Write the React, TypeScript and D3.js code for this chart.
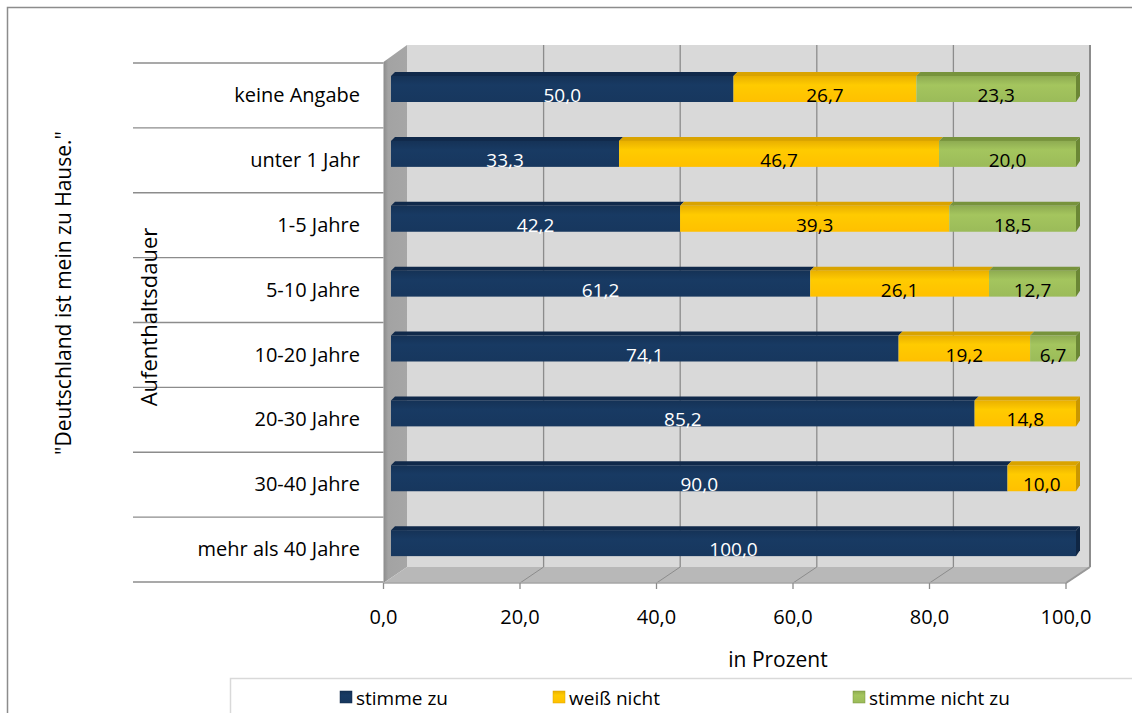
import * as React from 'react';
import * as d3 from 'd3';

const categories = ['keine Angabe', 'unter 1 Jahr', '1-5 Jahre', '5-10 Jahre', '10-20 Jahre', '20-30 Jahre', '30-40 Jahre', 'mehr als 40 Jahre'];
const seriesNames = ['stimme zu', 'weiß nicht', 'stimme nicht zu'];
const stimmeZu = [50.0, 33.3, 42.2, 61.2, 74.1, 85.2, 90.0, 100.0];
const weissNicht = [26.7, 46.7, 39.3, 26.1, 19.2, 14.8, 10.0, 0];
const stimmeNichtZu = [23.3, 20.0, 18.5, 12.7, 6.7, 0, 0, 0];
const xTicks = [0, 20, 40, 60, 80, 100];

const font = '"Open Sans", "Noto Sans", sans-serif';
const fill = ['#17375e', '#ffc000', '#9bbb59'];
const topFill = ['#10294a', '#d9a300', '#77933c'];
const capFill = ['#0f2644', '#c99700', '#6b8735'];
const txtFill = ['#ffffff', '#000000', '#000000'];

const fmt = (v: number) => v.toFixed(1).replace('.', ',');

const App: React.FC = () => {
  const rows = categories.map((c, i) => ({ cat: c, s0: stimmeZu[i], s1: weissNicht[i], s2: stimmeNichtZu[i] }));
  const stack = d3.stack<any>().keys(['s0', 's1', 's2'])(rows);

  // 3D frame: back wall, side wall, floor
  const dy = 16;
  const xBack = d3.scaleLinear().domain([0, 100]).range([407, 1090]);
  const xFront = d3.scaleLinear().domain([0, 100]).range([383.5, 1066]);
  const xBar = d3.scaleLinear().domain([0, 100]).range([391, 1076]);
  const y = d3.scaleBand().domain(categories).range([63, 582]).padding(0);
  const backTop = 45, floorBack = 567, floorFront = floorBack + dy;
  const bh = 26, depth = 4;

  return (
    <svg width={1132} height={713} style={{ position: 'absolute', left: 0, top: 0, background: '#fff' }}>
      <defs>
        {fill.map((c, i) => (
          <linearGradient key={i} id={`g${i}`} x1="0" y1="0" x2="0" y2="1">
            <stop offset="0" stopColor={d3.color(c)!.darker(0.25).toString()} />
            <stop offset="0.35" stopColor={d3.color(c)!.brighter(0.15).toString()} />
            <stop offset="1" stopColor={c} />
          </linearGradient>
        ))}
        <linearGradient id="wall" x1="0" y1="0" x2="1" y2="0">
          <stop offset="0" stopColor="#8c8c8c" />
          <stop offset="0.2" stopColor="#a3a3a3" />
          <stop offset="1" stopColor="#a6a6a6" />
        </linearGradient>
      </defs>
      <rect x={7.5} y={7.5} width={1140} height={720} fill="#fff" stroke="#8c8c8c" strokeWidth={1.5} />

      {/* back wall */}
      <rect x={xBack(0)} y={backTop} width={xBack(100) - xBack(0)} height={floorBack - backTop} fill="#d9d9d9" />
      {xTicks.slice(1, -1).map(t => (
        <line key={t} x1={xBack(t)} x2={xBack(t)} y1={backTop} y2={floorBack} stroke="#8c8c8c" strokeWidth={1.3} />
      ))}
      <line x1={xBack(100)} x2={xBack(100)} y1={backTop} y2={floorBack} stroke="#8c8c8c" strokeWidth={2} />
      {/* side wall */}
      <polygon points={`${xFront(0)},${backTop + dy + 1} ${xBack(0)},${backTop} ${xBack(0)},${floorBack} ${xFront(0)},${floorFront}`} fill="url(#wall)" />
      {/* floor */}
      <polygon points={`${xFront(0)},${floorFront} ${xBack(0)},${floorBack} ${xBack(100)},${floorBack} ${xFront(100)},${floorFront}`} fill="#b8b8b8" />
      {xTicks.slice(1).map(t => (
        <line key={t} x1={xBack(t)} x2={xFront(t)} y1={floorBack} y2={floorFront} stroke="#8c8c8c" strokeWidth={1} />
      ))}
      <line x1={xBack(100)} x2={xFront(100)} y1={floorBack} y2={floorFront} stroke="#999" strokeWidth={2} />
      <line x1={xFront(0)} x2={xFront(100)} y1={floorFront} y2={floorFront} stroke="#a6a6a6" strokeWidth={1.5} />
      {xTicks.map(t => (
        <g key={t}>
          <line x1={xFront(t)} x2={xFront(t)} y1={floorFront} y2={floorFront + 6} stroke="#8c8c8c" strokeWidth={1.3} />
          <text x={xFront(t)} y={624} textAnchor="middle" fontFamily={font} fontSize={20} fill="#000">{fmt(t)}</text>
        </g>
      ))}

      {/* category axis */}
      {d3.range(categories.length + 1).map(i => {
        const yy = 63 + i * y.step();
        return <line key={i} x1={133} x2={xFront(0)} y1={yy} y2={yy} stroke="#8c8c8c" strokeWidth={1.3} />;
      })}
      {categories.map(c => (
        <text key={c} x={360} y={(y(c) ?? 0) + 39} textAnchor="end" fontFamily={font} fontSize={20} fill="#000">{c}</text>
      ))}

      {/* bars */}
      {stack.map((s, si) => (
        <g key={si}>
          {s.map((d: any, i: number) => {
            const v = d[1] - d[0];
            if (v <= 0) return null;
            const x0 = xBar(d[0]), x1 = xBar(d[1]);
            const yt = (y(categories[i]) ?? 0) + 13;
            const last = d[1] >= 99.95;
            return (
              <g key={i}>
                <polygon points={`${x0},${yt} ${x0 + depth},${yt - depth} ${x1 + depth},${yt - depth} ${x1},${yt}`} fill={topFill[si]} />
                <rect x={x0} y={yt} width={x1 - x0} height={bh} fill={`url(#g${si})`} />
                {last && (
                  <polygon points={`${x1},${yt} ${x1 + depth},${yt - depth} ${x1 + depth},${yt + bh - depth - 2} ${x1},${yt + bh}`} fill={capFill[si]} />
                )}
              </g>
            );
          })}
        </g>
      ))}
      {stack.map((s, si) => (
        <g key={'t' + si}>
          {s.map((d: any, i: number) => {
            const v = d[1] - d[0];
            if (v <= 0) return null;
            const yt = (y(categories[i]) ?? 0) + 13;
            return (
              <text key={i} x={(xBar(d[0]) + xBar(d[1])) / 2} y={yt + bh} textAnchor="middle" fontFamily={font} fontSize={19} fill={txtFill[si]}>{fmt(v)}</text>
            );
          })}
        </g>
      ))}

      {/* axis titles */}
      <text x={778} y={667} textAnchor="middle" fontFamily={font} fontSize={21} fill="#000">in Prozent</text>
      <text transform="translate(157,317) rotate(-90)" textAnchor="middle" fontFamily={font} fontSize={22} fill="#000">Aufenthaltsdauer</text>
      <text transform="translate(71,293) rotate(-90)" textAnchor="middle" fontFamily={font} fontSize={21} fill="#000">"Deutschland ist mein zu Hause."</text>

      {/* legend */}
      <rect x={230.5} y={678.5} width={920} height={60} fill="#fff" stroke="#d9d9d9" strokeWidth={1.5} />
      {seriesNames.map((n, i) => {
        const lx = [340, 553, 853][i];
        return (
          <g key={n}>
            <rect x={lx} y={691} width={12} height={12} fill={`url(#g${i})`} stroke={topFill[i]} strokeWidth={0.5} />
            <text x={lx + 16} y={705} fontFamily={font} fontSize={19} fill="#000">{n}</text>
          </g>
        );
      })}
    </svg>
  );
};

export default App;
